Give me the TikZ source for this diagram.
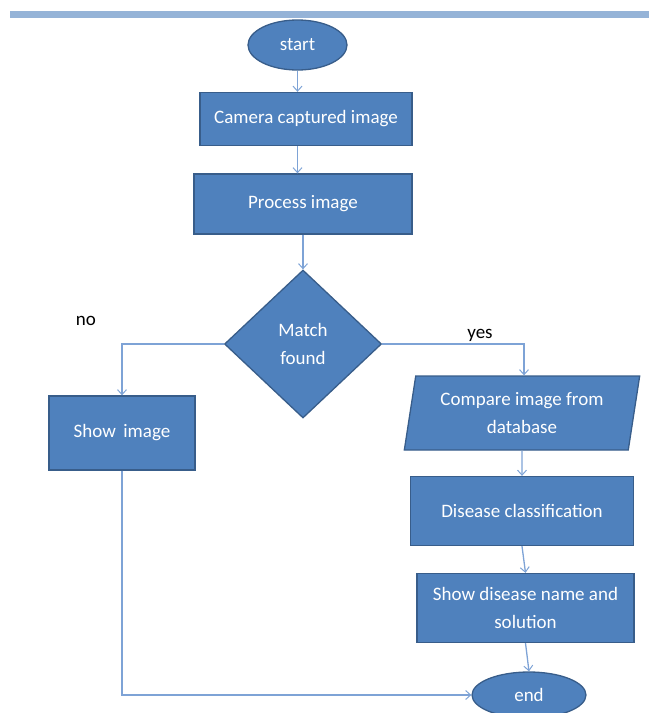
\documentclass[tikz,border=0pt]{standalone}
\usepackage{fontspec}
\setmainfont{Carlito}
\usetikzlibrary{shapes.geometric,arrows.meta}
\definecolor{boxfill}{HTML}{4F81BD}
\definecolor{boxline}{HTML}{385D8A}
\definecolor{conncol}{HTML}{7EA3D6}
\definecolor{barcol}{HTML}{95B3D7}
\tikzset{
  base/.style={fill=boxfill, draw=boxline, line width=1.3pt, text=white, align=center,
    font=\fontsize{19}{28}\selectfont, inner sep=0pt},
  termbox/.style={base, ellipse},
  decbox/.style={base, diamond},
  iobox/.style={base, trapezium, trapezium left angle=78, trapezium right angle=102, trapezium stretches=true},
  conn/.style={draw=conncol, line width=1.3pt, -{Straight Barb[length=5pt,width=9pt,line width=1pt]}},
  lbl/.style={text=black, font=\fontsize{19}{22}\selectfont, inner sep=0pt}
}
\begin{document}
\begin{tikzpicture}[x=1pt,y=-1pt]
\useasboundingbox (0,0) rectangle (649,713);
\fill[barcol] (10,11) rectangle (649,18);

\node[termbox, minimum width=99, minimum height=50] (start) at (297.5,45) {start};
\node[base, minimum width=212, minimum height=53] (cam) at (306,119) {Camera captured image};
\node[base, minimum width=218, minimum height=60] (proc) at (303,204) {Process image};
\node[decbox, minimum width=157, minimum height=148] (dec) at (303,344) {Match\\found};
\node[base, minimum width=146, minimum height=74] (show) at (122,433) {Show\, image};
\node[iobox, minimum width=236, minimum height=74] (cmp) at (522,413) {Compare image from\\database};
\node[base, minimum width=223, minimum height=69] (dis) at (522,511) {Disease classification};
\node[base, minimum width=217, minimum height=69] (name) at (525.5,608) {Show disease name and\\solution};
\node[termbox, minimum width=114, minimum height=46] (end) at (529,695) {end};

\node[lbl] (no) at (86,321) {no};
\node[lbl] (yes) at (480,335) {yes};

\draw[conn] (start.south) -- (start.south |- cam.north);
\draw[conn] (cam.south -| start.south) -- (start.south |- proc.north);
\draw[conn] (proc.south -| dec.north) -- (dec.north);
\draw[conn] (dec.west) -| (show.north);
\draw[conn] (dec.east) -| ([xshift=2pt]cmp.north);
\draw[conn] (cmp.south) -- (dis.north);
\draw[conn] (dis.south) -- (name.north);
\draw[conn] (name.south) -- (end.north);
\draw[conn] (show.south) |- (end.west);
\end{tikzpicture}
\end{document}
